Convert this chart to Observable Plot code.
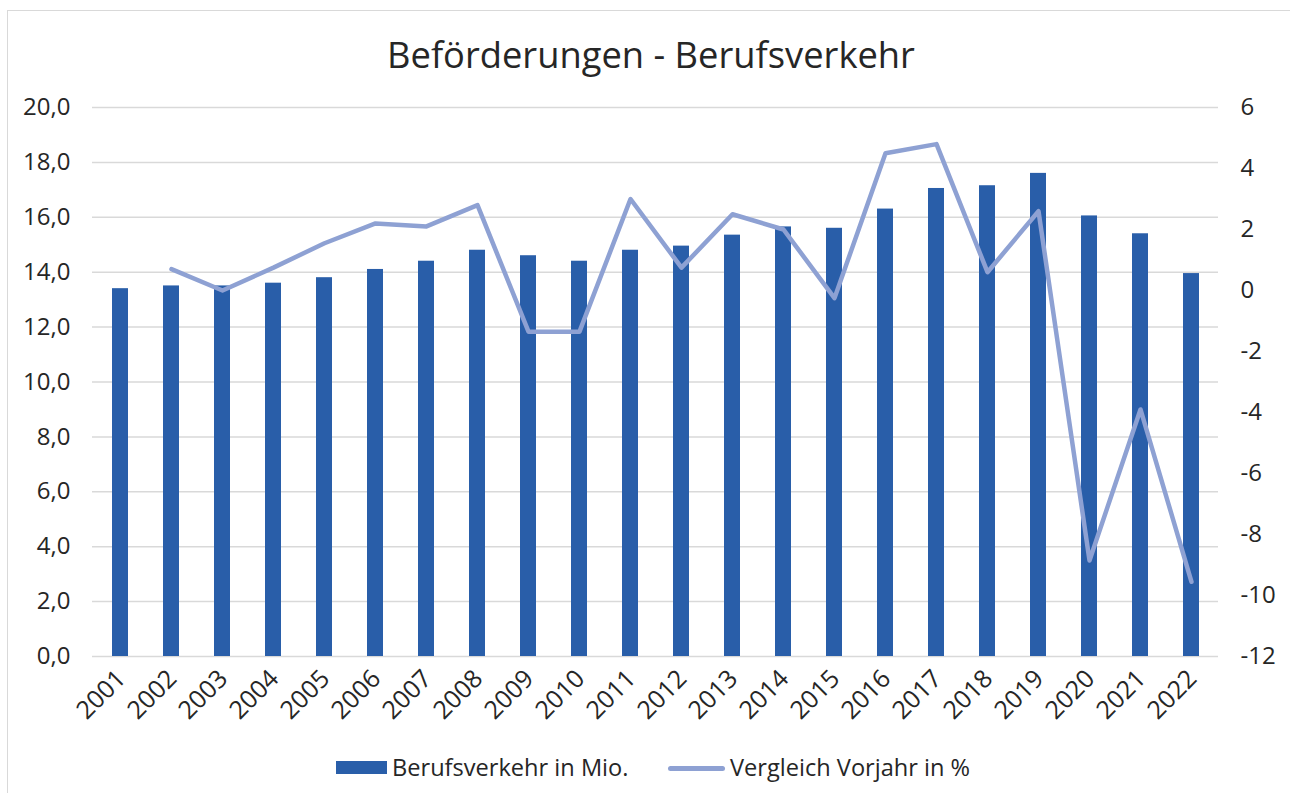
<!DOCTYPE html>
<html>
<head>
<meta charset="utf-8">
<script src="https://cdn.jsdelivr.net/npm/d3@7"></script>
<script src="https://cdn.jsdelivr.net/npm/@observablehq/plot@0.6"></script>
<style>
  html, body { margin: 0; padding: 0; background: #fff; }
  body { width: 1290px; height: 793px; position: relative; overflow: hidden; font-family: "Open Sans", sans-serif; color: #262626; }
  #frame { position: absolute; left: 7px; top: 10px; width: 1300px; height: 800px; border: 1.5px solid #d9d9d9; box-sizing: border-box; }
  #title { position: absolute; left: 0; top: 30px; width: 1302px; text-align: center; font-size: 36.3px; line-height: 48px; color: #262626; }
  #chart { position: absolute; left: 0; top: 85px; }
  .leg { position: absolute; font-size: 23.6px; line-height: 30px; top: 752px; color: #262626; white-space: nowrap; }
  .swatch { position: absolute; }
</style>
</head>
<body>
<div id="frame"></div>
<div id="title">Beförderungen - Berufsverkehr</div>
<div id="chart"></div>
<div class="swatch" style="left:336px;top:761px;width:51px;height:13px;background:#295ea9;"></div>
<div class="leg" style="left:392px;">Berufsverkehr in Mio.</div>
<div class="swatch" style="left:668px;top:765.5px;width:57px;height:5px;border-radius:3px;background:#8ea1d3;"></div>
<div class="leg" style="left:730px;">Vergleich Vorjahr in %</div>
<script>
const years = ["2001","2002","2003","2004","2005","2006","2007","2008","2009","2010","2011","2012","2013","2014","2015","2016","2017","2018","2019","2020","2021","2022"];
const passengers = [13.4,13.5,13.5,13.6,13.8,14.1,14.4,14.8,14.6,14.4,14.8,14.95,15.35,15.65,15.6,16.3,17.05,17.15,17.6,16.05,15.4,13.95];
const changeYears = years.slice(1);
const changePct = [0.7,0.0,0.75,1.55,2.2,2.1,2.8,-1.35,-1.35,3.0,0.75,2.5,2.0,-0.25,4.5,4.8,0.6,2.6,-8.85,-3.9,-9.55];
const leftTicks = [0,2,4,6,8,10,12,14,16,18,20];
const rightTicks = [-12,-10,-8,-6,-4,-2,0,2,4,6];

const leftMax = 20, rightMin = -12, rightMax = 6;
const toLeft = v => (v - rightMin) / (rightMax - rightMin) * leftMax;
const toRight = v => v / leftMax * (rightMax - rightMin) + rightMin;

const bars = years.map((y, i) => ({year: y, value: passengers[i]}));
const line = changeYears.map((y, i) => ({year: y, change: changePct[i]}));

const chart = Plot.plot({
  width: 1290,
  height: 660,
  marginTop: 22,
  marginBottom: 89,
  marginLeft: 92,
  marginRight: 72,
  style: {fontFamily: "Open Sans, sans-serif", fontSize: "24px", color: "#262626", background: "transparent"},
  x: {type: "band", domain: years, paddingInner: 0.69, paddingOuter: 0.345, align: 0.5, label: null},
  y: {domain: [0, leftMax], label: null},
  marks: [
    Plot.gridY(leftTicks, {stroke: "#d9d9d9", strokeOpacity: 1, strokeWidth: 1.5}),
    Plot.barY(bars, {x: "year", y: "value", fill: "#295ea9"}),
    Plot.line(line, {x: "year", y: d => toLeft(d.change), stroke: "#8ea1d3", strokeWidth: 4.5, strokeLinejoin: "round", strokeLinecap: "round"}),
    Plot.axisY(leftTicks, {anchor: "left", tickSize: 0, tickPadding: 22, tickFormat: d => d.toFixed(1).replace(".", ","), label: null, fontSize: 24}),
    Plot.axisY(rightTicks.map(toLeft), {anchor: "right", tickSize: 0, tickPadding: 22, tickFormat: d => String(Math.round(toRight(d))), label: null, fontSize: 24}),
    Plot.axisX({tickSize: 0, tickPadding: 10, tickRotate: -45, label: null, fontSize: 25, dx: 1, dy: 8})
  ]
});
document.getElementById("chart").appendChild(chart);
</script>
</body>
</html>
